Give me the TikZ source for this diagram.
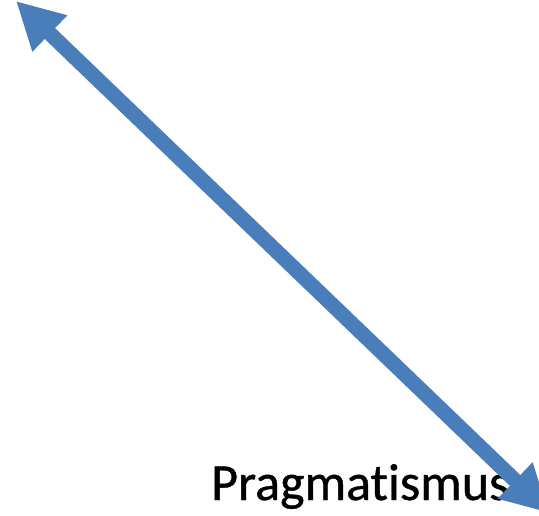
\documentclass[tikz,border=0pt]{standalone}
\usepackage{fontspec}
\setmainfont{Carlito}
\newfontfamily\labelfont[FakeBold=0.8,Ligatures=NoCommon]{Carlito}
\usetikzlibrary{arrows.meta}
\definecolor{arrowblue}{RGB}{74,126,187}
\tikzset{
  bigarrow/.style={draw=arrowblue, line width=15pt,
    {Triangle[length=47pt,width=47pt]}-{Triangle[length=47pt,width=47pt]}},
  label/.style={font=\labelfont\fontsize{52}{60}\selectfont, text=black, inner sep=0pt, anchor=base west}
}
\begin{document}
\begin{tikzpicture}[x=1pt,y=-1pt]
\useasboundingbox (0,0) rectangle (539,516);
\clip (0,0) rectangle (539,516);
\node[label] (t) at (211,500) {Pragmat\kern0pt ismus};
\coordinate (a) at (16,1);
\coordinate (b) at (549,513);
\draw[bigarrow] (a) -- (b);
\end{tikzpicture}
\end{document}
